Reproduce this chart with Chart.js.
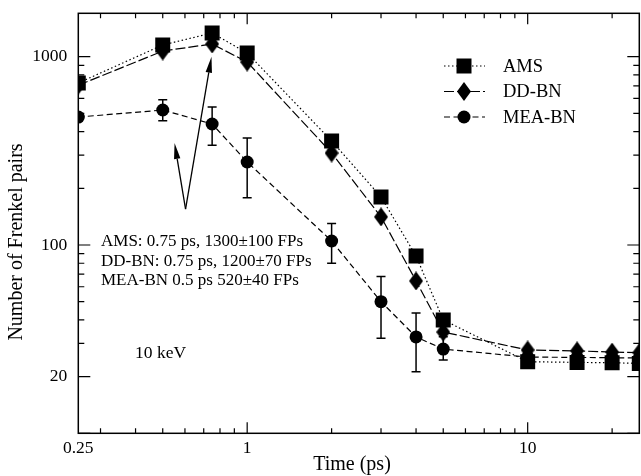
<!DOCTYPE html>
<html>
<head>
<meta charset="utf-8">
<title>Frenkel pairs vs time</title>
<script src="https://cdn.jsdelivr.net/npm/chart.js@4/dist/chart.umd.min.js"></script>
<style>
  body { margin: 0; background: #fff; }
  canvas { display: block; }
</style>
</head>
<body>
<canvas id="myChart" width="641" height="476"></canvas>
<script>
'use strict';

// time in ps
let times = [0.25, 0.5, 0.75, 1, 2, 3, 4, 5, 10, 15, 20, 25];
let amsValues = [725, 1154, 1336, 1046, 357, 180, 87.4, 40, 24, 23.8, 23.7, 23.5];
let ddbnValues = [705, 1072, 1168, 937, 308, 141, 64.4, 34.5, 27.7, 27.4, 27, 26.8];
let meaValues = [478, 521, 439, 276, 105, 50, 32.5, 28, 25.4, 25.3, 25.2, 25.1];
let meaErrHigh = [null, 590, 541, 370, 130, 68, 43.5, 32.6, null, null, null, null];
let meaErrLow = [null, 457, 339, 178, 80, 32, 21.2, 24.5, null, null, null, null];

let seriesNames = ['AMS', 'DD-BN', 'MEA-BN'];
let xTickLabels = [0.25, 1, 10];
let yTickLabels = [20, 100, 1000];
let xMinorTicks = [0.3, 0.4, 0.5, 0.6, 0.7, 0.8, 0.9, 2, 3, 4, 5, 6, 7, 8, 9, 20];
let xMajorTicks = [1, 10];
let yMinorTicks = [30, 40, 50, 60, 70, 80, 90, 200, 300, 400, 500, 600, 700, 800, 900];
let yMajorTicks = [10, 20, 100, 1000];

let noteLines = ['AMS: 0.75 ps, 1300\u00b1100 FPs', 'DD-BN: 0.75 ps, 1200\u00b170 FPs', 'MEA-BN 0.5 ps 520\u00b140 FPs'];
// arrows: [fromX, fromY, toX, toY] in data units
let arrows = [[0.603, 155, 0.551, 348], [0.603, 155, 0.746, 1000]];

let serif = "'Liberation Serif', 'DejaVu Serif', serif";

function makeDiamond(w, h) {
    let c = document.createElement('canvas');
    c.width = w;
    c.height = h;
    let g = c.getContext('2d');
    g.fillStyle = '#000';
    g.beginPath();
    g.moveTo(w / 2, 0);
    g.lineTo(w, h / 2);
    g.lineTo(w / 2, h);
    g.lineTo(0, h / 2);
    g.closePath();
    g.fill();
    return c;
}
let diamond = makeDiamond(14, 19);

function toPoints(values) {
    let pts = [];
    for (let i = 0; i < times.length; i++) {
        pts.push({ x: times[i], y: values[i] });
    }
    return pts;
}

let styles = [
    { dash: [1.5, 2.5], pointStyle: 'rect', radius: 10.6 },
    { dash: [10, 3], pointStyle: diamond, radius: 8 },
    { dash: [6, 3.5], pointStyle: 'circle', radius: 6.5 }
];

let seriesValues = [amsValues, ddbnValues, meaValues];
let datasets = [];
for (let i = 0; i < seriesNames.length; i++) {
    datasets.push({
        label: seriesNames[i],
        data: toPoints(seriesValues[i]),
        borderColor: '#000',
        borderWidth: 1.2,
        borderDash: styles[i].dash,
        backgroundColor: '#000',
        pointBackgroundColor: '#000',
        pointBorderColor: '#000',
        pointBorderWidth: 0,
        pointStyle: styles[i].pointStyle,
        pointRadius: styles[i].radius,
        tension: 0,
        fill: false
    });
}

function drawMarker(ctx, style, x, y, radius) {
    ctx.fillStyle = '#000';
    if (style === 'rect') {
        let s = radius * Math.SQRT1_2;
        ctx.fillRect(x - s, y - s, 2 * s, 2 * s);
    } else if (style === 'circle') {
        ctx.beginPath();
        ctx.arc(x, y, radius, 0, Math.PI * 2);
        ctx.fill();
    } else {
        ctx.drawImage(style, x - style.width / 2, y - style.height / 2);
    }
}

function noPadding(scale) {
    scale.paddingLeft = 0;
    scale.paddingRight = 0;
    scale.paddingTop = 0;
    scale.paddingBottom = 0;
}

let errorBars = {
    id: 'errorBars',
    beforeDatasetsDraw(chart) {
        let ctx = chart.ctx;
        let xs = chart.scales.x;
        let ys = chart.scales.y;
        let a = chart.chartArea;
        ctx.save();
        ctx.beginPath();
        ctx.rect(a.left, a.top, a.right - a.left, a.bottom - a.top);
        ctx.clip();
        ctx.strokeStyle = '#000';
        ctx.lineWidth = 1.5;
        for (let i = 0; i < times.length; i++) {
            if (meaErrHigh[i] == null) continue;
            let x = xs.getPixelForValue(times[i]);
            let y1 = ys.getPixelForValue(meaErrHigh[i]);
            let y2 = ys.getPixelForValue(meaErrLow[i]);
            ctx.beginPath();
            ctx.moveTo(x, y1); ctx.lineTo(x, y2);
            ctx.moveTo(x - 4.5, y1); ctx.lineTo(x + 4.5, y1);
            ctx.moveTo(x - 4.5, y2); ctx.lineTo(x + 4.5, y2);
            ctx.stroke();
        }
        ctx.restore();
    }
};

let frameAndNotes = {
    id: 'frameAndNotes',
    afterDraw(chart) {
        let ctx = chart.ctx;
        let xs = chart.scales.x;
        let ys = chart.scales.y;
        let a = chart.chartArea;
        ctx.save();
        ctx.strokeStyle = '#000';
        ctx.lineWidth = 1.5;
        ctx.setLineDash([]);
        ctx.strokeRect(a.left, a.top, a.right - a.left, a.bottom - a.top);

        // inward ticks on all four sides
        ctx.lineWidth = 1.2;
        ctx.beginPath();
        let xt = xMinorTicks.map(v => [v, 5]).concat(xMajorTicks.map(v => [v, 11]));
        xt.forEach(function (t) {
            let x = xs.getPixelForValue(t[0]);
            ctx.moveTo(x, a.bottom); ctx.lineTo(x, a.bottom - t[1]);
            ctx.moveTo(x, a.top); ctx.lineTo(x, a.top + t[1]);
        });
        let yt = yMinorTicks.map(v => [v, 6]).concat(yMajorTicks.map(v => [v, 12]));
        yt.forEach(function (t) {
            let y = ys.getPixelForValue(t[0]);
            ctx.moveTo(a.left, y); ctx.lineTo(a.left + t[1], y);
            ctx.moveTo(a.right, y); ctx.lineTo(a.right - t[1], y);
        });
        ctx.stroke();

        // arrows
        ctx.lineWidth = 1.3;
        ctx.fillStyle = '#000';
        arrows.forEach(function (ar) {
            let x0 = xs.getPixelForValue(ar[0]);
            let y0 = ys.getPixelForValue(ar[1]);
            let x1 = xs.getPixelForValue(ar[2]);
            let y1 = ys.getPixelForValue(ar[3]);
            let ang = Math.atan2(y1 - y0, x1 - x0);
            let hl = 16, hw = 3.2;
            let bx = x1 - hl * Math.cos(ang);
            let by = y1 - hl * Math.sin(ang);
            ctx.beginPath();
            ctx.moveTo(x0, y0);
            ctx.lineTo(bx, by);
            ctx.stroke();
            ctx.beginPath();
            ctx.moveTo(x1, y1);
            ctx.lineTo(bx + hw * Math.sin(ang), by - hw * Math.cos(ang));
            ctx.lineTo(bx - hw * Math.sin(ang), by + hw * Math.cos(ang));
            ctx.closePath();
            ctx.fill();
        });

        // text notes
        ctx.fillStyle = '#000';
        ctx.textBaseline = 'middle';
        ctx.textAlign = 'left';
        ctx.font = '17px ' + serif;
        for (let i = 0; i < noteLines.length; i++) {
            ctx.fillText(noteLines[i], 101, 242 + i * 19.5);
        }
        ctx.font = '17.5px ' + serif;
        ctx.fillText('10 keV', 135, 353);

        // legend
        ctx.font = '18.5px ' + serif;
        for (let i = 0; i < seriesNames.length; i++) {
            let y = 66 + i * 25.5;
            ctx.lineWidth = 1.2;
            ctx.setLineDash(styles[i].dash);
            ctx.beginPath();
            ctx.moveTo(444, y);
            ctx.lineTo(485, y);
            ctx.stroke();
            ctx.setLineDash([]);
            drawMarker(ctx, styles[i].pointStyle, 464, y, styles[i].radius);
            ctx.fillText(seriesNames[i], 503, y + 1);
        }

        // axis titles
        ctx.font = '20px ' + serif;
        ctx.textAlign = 'center';
        ctx.fillText('Time (ps)', 352, 465);
        ctx.translate(17, 242);
        ctx.rotate(-Math.PI / 2);
        ctx.fillText('Number of Frenkel pairs', 0, 0);
        ctx.restore();
    }
};

let ctx = document.getElementById('myChart').getContext('2d');
let chart = new Chart(ctx, {
    type: 'line',
    data: { datasets: datasets },
    options: {
        responsive: false,
        animation: false,
        layout: { autoPadding: false, padding: { top: 13.3, right: 1.7, left: 0, bottom: 0 } },
        plugins: {
            legend: { display: false },
            tooltip: { enabled: false }
        },
        scales: {
            x: {
                type: 'logarithmic',
                min: 0.25,
                max: 25,
                grid: { display: false, drawTicks: false },
                border: { display: false },
                afterBuildTicks: function (scale) {
                    scale.ticks = xTickLabels.map(v => ({ value: v }));
                },
                afterFit: function (scale) {
                    scale.height = 42.7;
                    noPadding(scale);
                },
                ticks: {
                    autoSkip: false,
                    maxRotation: 0,
                    padding: 5,
                    color: '#000',
                    font: { family: serif, size: 17.5 },
                    callback: function (v) { return String(v); }
                }
            },
            y: {
                type: 'logarithmic',
                min: 10,
                max: 1700,
                grid: { display: false, drawTicks: false },
                border: { display: false },
                afterBuildTicks: function (scale) {
                    scale.ticks = yTickLabels.map(v => ({ value: v }));
                },
                afterFit: function (scale) {
                    scale.width = 78.3;
                    noPadding(scale);
                },
                ticks: {
                    autoSkip: false,
                    padding: 11,
                    color: '#000',
                    font: { family: serif, size: 17.5 },
                    callback: function (v) { return String(v); }
                }
            }
        }
    },
    plugins: [errorBars, frameAndNotes]
});
</script>
</body>
</html>
